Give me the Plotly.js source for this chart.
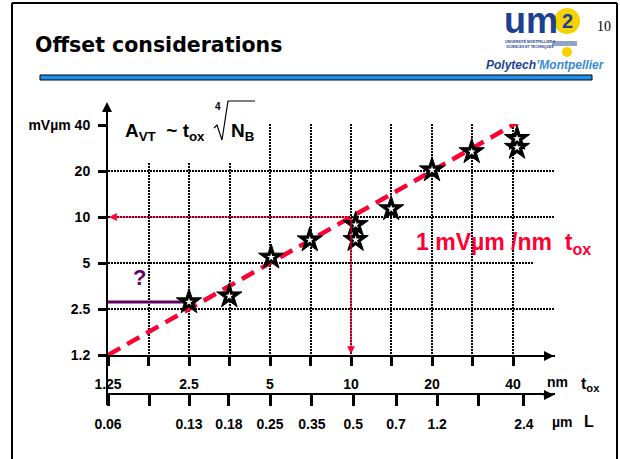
<!DOCTYPE html>
<html>
<head>
<meta charset="utf-8">
<script src="https://cdn.plot.ly/plotly-3.0.1.min.js"></script>
<style>
html,body{margin:0;padding:0;background:#fff;}
#chart{width:620px;height:459px;}
</style>
</head>
<body>
<div id="chart"></div>
<script>
// ---------- data ----------
const toxTicks  = [1.25, 1.768, 2.5, 3.536, 5, 7.071, 10, 14.14, 20, 28.28, 40];
const toxLabels = ['1.25', '', '2.5', '', '5', '', '10', '', '20', '', '40'];
const avtTicks  = [1.25, 2.5, 5, 10, 20, 40];
const avtLabels = ['1.2', '2.5', '5', '10', '20', 'mV\u00b5m 40'];
const lTickPos  = [1.25, 1.777, 2.5, 3.52, 5, 7.16, 10.19, 14.7, 20.9, 29.7, 43.9];
const lLabels   = ['0.06', '', '0.13', '0.18', '0.25', '0.35', '0.5', '0.7', '1.2', '', '2.4'];
const starTox   = [2.5, 3.53, 5.05, 7.03, 10.4, 10.4, 14.1, 20.0, 28.1, 41.4, 41.4];
const starAvt   = [2.78, 3.04, 5.45, 7.07, 8.9, 7.1, 11.3, 20.3, 26.7, 32.6, 28.5];
const fitTox    = [1.25, 48];
const fitAvt    = [1.25, 48];
const askTox    = [1.25, 2.5];
const askAvt    = [2.78, 2.78];
const refTox    = 10;
const refAvt    = 10;

// ---------- geometry helpers (decoration only) ----------
const L = 108, R = 65, T = 124, B = 54, WID = 620, HEI = 459;
const plotW = WID - L - R, plotH = HEI - T - B;
const pxX = x => (x - L) / plotW;
const pxY = y => (HEI - B - y) / plotH;
const lg = Math.log10;
const NB = '\u00a0';

const RED = '#ff0033';
const FONT = 'Liberation Sans, Arial, sans-serif';

const traces = [
  {x: fitTox, y: fitAvt, mode: 'lines', line: {color: RED, width: 4.5, dash: '14px,8px'}, hoverinfo: 'skip', showlegend: false},
  {x: askTox, y: askAvt, mode: 'lines', line: {color: '#660066', width: 3}, hoverinfo: 'skip', showlegend: false},
  {x: starTox, y: starAvt, mode: 'markers', marker: {symbol: 'star', size: 19, color: '#000', line: {width: 1, color: '#000'}}, cliponaxis: false, showlegend: false},
  {x: starTox, y: starAvt, mode: 'markers', marker: {symbol: 'star', size: 6, color: '#fff', line: {width: 0}}, cliponaxis: false, hoverinfo: 'skip', showlegend: false},
  {x: [lTickPos[0]], y: [avtTicks[0]], xaxis: 'x2', mode: 'markers', marker: {opacity: 0}, hoverinfo: 'skip', showlegend: false}
];

const yDomLow = pxY(355);

const layout = {
  width: WID, height: HEI,
  margin: {l: L, r: R, t: T, b: B, pad: 0},
  paper_bgcolor: '#fff', plot_bgcolor: 'rgba(0,0,0,0)',
  font: {family: FONT, color: '#000'},
  showlegend: false,
  xaxis: {
    type: 'log', range: [lg(1.25), lg(1.25 * Math.pow(2, plotW / 81))],
    tickmode: 'array', tickvals: toxTicks, ticktext: toxLabels.map(s => s ? '<b>' + s + '</b>' : ''),
    ticks: 'outside', ticklen: 9, tickwidth: 3, tickcolor: '#000',
    showline: true, linewidth: 2, linecolor: '#000',
    showgrid: true, gridcolor: '#000', gridwidth: 2, griddash: '2px,1px',
    zeroline: false, tickfont: {family: FONT, size: 14, color: '#000'},
    ticklabelstandoff: 6, anchor: 'y'
  },
  xaxis2: {
    type: 'log', overlaying: 'x', anchor: 'free', position: pxY(394), side: 'bottom',
    range: [lg(1.25), lg(1.25 * Math.pow(2, plotW / 81))],
    tickmode: 'array', tickvals: lTickPos, ticktext: lLabels.map(s => s ? '<b>' + s + '</b>' : ''),
    ticks: 'outside', ticklen: 11, tickwidth: 3, tickcolor: '#000',
    showline: true, linewidth: 2, linecolor: '#000', showgrid: false, zeroline: false,
    tickfont: {family: FONT, size: 14, color: '#000'}, ticklabelstandoff: 6
  },
  yaxis: {
    type: 'log', domain: [yDomLow, 1],
    range: [lg(1.25), lg(1.25 * Math.pow(2, (355 - T) / 46))],
    tickmode: 'array', tickvals: avtTicks, ticktext: avtLabels.map(s => '<b>' + s + '</b>'),
    ticks: 'outside', ticklen: 8, tickwidth: 3, tickcolor: '#000',
    showline: true, linewidth: 2, linecolor: '#000',
    showgrid: true, gridcolor: '#000', gridwidth: 2, griddash: '2px,1px',
    zeroline: false, tickfont: {family: FONT, size: 14, color: '#000'},
    ticklabelstandoff: 5
  },
  shapes: [
    // slide frame
    {type: 'line', xref: 'paper', yref: 'paper', x0: pxX(12), x1: pxX(12), y0: pxY(3), y1: pxY(462), line: {color: '#000', width: 2}},
    {type: 'line', xref: 'paper', yref: 'paper', x0: pxX(617), x1: pxX(617), y0: pxY(3), y1: pxY(462), line: {color: '#000', width: 2}},
    {type: 'line', xref: 'paper', yref: 'paper', x0: pxX(12), x1: pxX(617), y0: pxY(3), y1: pxY(3), line: {color: '#000', width: 2}},
    // blue title bar
    {type: 'rect', xref: 'paper', yref: 'paper', x0: pxX(40), x1: pxX(592), y0: pxY(75), y1: pxY(80), fillcolor: '#1e90f0', line: {color: '#000', width: 1}},
    // white box behind formula
    {type: 'rect', xref: 'paper', yref: 'paper', x0: pxX(110), x1: pxX(261), y0: pxY(95), y1: pxY(163), fillcolor: '#fff', line: {width: 0}, layer: 'above'},
    // small white patch behind red label (cuts gridline)
    {type: 'rect', xref: 'paper', yref: 'paper', x0: pxX(534), x1: pxX(558), y0: pxY(256), y1: pxY(268), fillcolor: '#fff', line: {width: 0}, layer: 'above'},
    // radical sign
    {type: 'path', xref: 'paper', yref: 'paper', path: 'M ' + pxX(214) + ' ' + pxY(128) + ' L ' + pxX(217) + ' ' + pxY(125) + ' L ' + pxX(222) + ' ' + pxY(140) + ' L ' + pxX(228) + ' ' + pxY(101) + ' L ' + pxX(255) + ' ' + pxY(101), line: {color: '#000', width: 1.2}, layer: 'above'},
    // y axis continuation below x axis
    {type: 'line', xref: 'paper', yref: 'paper', x0: pxX(107), x1: pxX(107), y0: pxY(355), y1: pxY(405), line: {color: '#000', width: 2}},
    // logo: yellow disc and drop
    {type: 'circle', xref: 'paper', yref: 'paper', x0: pxX(554), x1: pxX(580), y0: pxY(8), y1: pxY(34), fillcolor: '#f6d200', line: {width: 0}},
    {type: 'rect', xref: 'paper', yref: 'paper', x0: pxX(552), x1: pxX(577), y0: pxY(41), y1: pxY(46), fillcolor: '#8ea4c8', line: {width: 0}},
    {type: 'circle', xref: 'paper', yref: 'paper', x0: pxX(562), x1: pxX(572), y0: pxY(47), y1: pxY(57), fillcolor: '#f6d200', line: {width: 0}}
  ],
  annotations: [
    {xref: 'paper', yref: 'paper', x: pxX(33), y: pxY(45), xanchor: 'left', yanchor: 'middle', showarrow: false,
     text: '<b>Offset considerations</b>', font: {family: 'DejaVu Sans, sans-serif', size: 20.5, color: '#000'}},
    {xref: 'paper', yref: 'paper', x: pxX(604), y: pxY(27), xanchor: 'center', yanchor: 'middle', showarrow: false,
     text: '10', font: {family: 'Liberation Serif, serif', size: 14, color: '#000'}},
    {xref: 'paper', yref: 'paper', x: pxX(531), y: pxY(21), xanchor: 'center', yanchor: 'middle', showarrow: false,
     text: '<b>um</b>', font: {family: FONT, size: 36, color: '#1f3f92'}},
    {xref: 'paper', yref: 'paper', x: pxX(567), y: pxY(21), xanchor: 'center', yanchor: 'middle', showarrow: false,
     text: '<b>2</b>', font: {family: FONT, size: 20, color: '#1f3f92'}},
    {xref: 'paper', yref: 'paper', x: pxX(530), y: pxY(44), xanchor: 'center', yanchor: 'middle', showarrow: false,
     text: '<b>UNIVERSIT\u00c9 MONTPELLIER II<br>SCIENCES ET TECHNIQUES</b>', font: {family: FONT, size: 3.5, color: '#1f3f92'}},
    {xref: 'paper', yref: 'paper', x: pxX(607), y: pxY(65), xanchor: 'right', yanchor: 'middle', showarrow: false,
     text: '<b><i><span style="color:#1f3f92">Polytech</span><span style="color:#3c8ad6">\u2019Montpellier</span></i></b>',
     font: {family: FONT, size: 12, color: '#1f3f92'}},
    // formula
    {xref: 'paper', yref: 'paper', x: pxX(123), y: pxY(132), xanchor: 'left', yanchor: 'middle', showarrow: false,
     text: '<b>A<sub>VT</sub>' + NB + NB + '~' + NB + 't<sub>ox</sub></b>', font: {family: FONT, size: 19, color: '#000'}},
    {xref: 'paper', yref: 'paper', x: pxX(218), y: pxY(106), xanchor: 'center', yanchor: 'middle', showarrow: false,
     text: '<b>4</b>', font: {family: FONT, size: 10, color: '#000'}},
    {xref: 'paper', yref: 'paper', x: pxX(229), y: pxY(132), xanchor: 'left', yanchor: 'middle', showarrow: false,
     text: '<b>N<sub>B</sub></b>', font: {family: FONT, size: 19, color: '#000'}},
    // red label
    {xref: 'paper', yref: 'paper', x: pxX(414), y: pxY(243), xanchor: 'left', yanchor: 'middle', showarrow: false,
     text: '<b>1 mV\u00b5m /nm' + NB + NB + 't<sub>ox</sub></b>', font: {family: FONT, size: 23, color: RED}},
    // question mark
    {xref: 'paper', yref: 'paper', x: pxX(139), y: pxY(277), xanchor: 'center', yanchor: 'middle', showarrow: false,
     text: '<b>?</b>', font: {family: FONT, size: 22, color: '#660066'}},
    // axis units
    {xref: 'paper', yref: 'paper', x: pxX(545), y: pxY(382), xanchor: 'left', yanchor: 'middle', showarrow: false,
     text: '<b>nm</b>', font: {family: FONT, size: 14, color: '#000'}},
    {xref: 'paper', yref: 'paper', x: pxX(579), y: pxY(384), xanchor: 'left', yanchor: 'middle', showarrow: false,
     text: '<b>t<sub>ox</sub></b>', font: {family: FONT, size: 16, color: '#000'}},
    {xref: 'paper', yref: 'paper', x: pxX(550), y: pxY(422), xanchor: 'left', yanchor: 'middle', showarrow: false,
     text: '<b>\u00b5m</b>', font: {family: FONT, size: 14, color: '#000'}},
    {xref: 'paper', yref: 'paper', x: pxX(582), y: pxY(421), xanchor: 'left', yanchor: 'middle', showarrow: false,
     text: '<b>L</b>', font: {family: FONT, size: 16, color: '#000'}},
    // axis arrowheads
    {xref: 'paper', yref: 'paper', x: pxX(107), y: pxY(102), axref: 'pixel', ayref: 'pixel', ax: 0, ay: 26, text: '', showarrow: true, arrowhead: 2, arrowsize: 1, arrowwidth: 2, arrowcolor: '#000', standoff: 0},
    {xref: 'paper', yref: 'paper', x: pxX(554), y: pxY(356), ax: -12, ay: 0, text: '', showarrow: true, arrowhead: 2, arrowsize: 1, arrowwidth: 2, arrowcolor: '#000', standoff: 0},
    {xref: 'paper', yref: 'paper', x: pxX(554), y: pxY(395), ax: -12, ay: 0, text: '', showarrow: true, arrowhead: 2, arrowsize: 1, arrowwidth: 2, arrowcolor: '#000', standoff: 0},
    // red reference arrows
    {xref: 'x', yref: 'y', axref: 'x', ayref: 'y', x: lg(avtTicks[0]), y: lg(refAvt), ax: lg(refTox), ay: lg(refAvt), text: '', showarrow: true, arrowhead: 2, arrowsize: 1.3, arrowwidth: 1.2, arrowcolor: RED, standoff: 1},
    {xref: 'x', yref: 'y', axref: 'x', ayref: 'y', x: lg(refTox), y: lg(avtTicks[0]), ax: lg(refTox), ay: lg(refAvt), text: '', showarrow: true, arrowhead: 2, arrowsize: 1.3, arrowwidth: 1.2, arrowcolor: RED, standoff: 1}
  ]
};

Plotly.newPlot('chart', traces, layout, {displayModeBar: false, staticPlot: true});
</script>
</body>
</html>
